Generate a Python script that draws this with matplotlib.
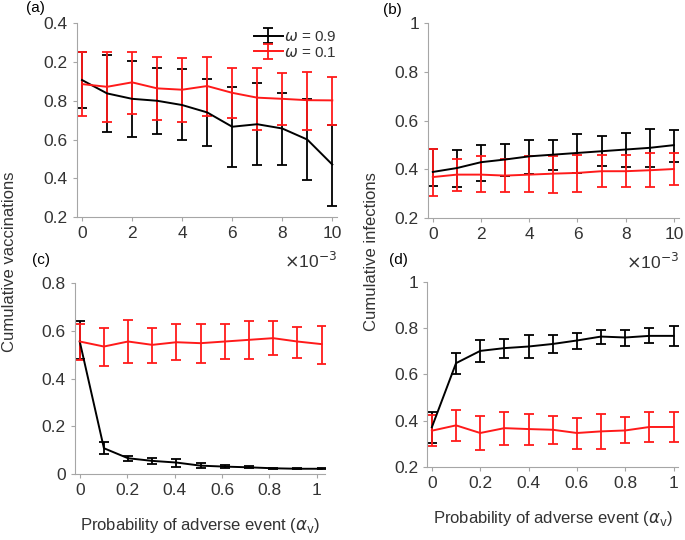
import matplotlib
matplotlib.use("Agg")
import matplotlib.pyplot as plt
import numpy as np

plt.rcParams['font.family'] = ['Liberation Sans', 'DejaVu Sans']
plt.rcParams['mathtext.fontset'] = 'dejavusans'

TXT = '#333333'
AX = '#a6a6a6'
RED = '#ff1a1a'

# --- Data ---
# top row: alpha_v in units of 1e-3
x_top = [0, 1, 2, 3, 4, 5, 6, 7, 8, 9, 10]
# bottom row
x_c = [0, 0.102, 0.204, 0.306, 0.408, 0.51, 0.612, 0.714, 0.816, 0.918, 1.021]
x_d = [0, 0.1, 0.2, 0.3, 0.4, 0.5, 0.6, 0.7, 0.8, 0.9, 1.0]

# (a) cumulative vaccinations
a_blk = [0.907, 0.838, 0.810, 0.800, 0.778, 0.740, 0.666, 0.679, 0.657, 0.600, 0.471]
a_blk_hi = [1.053, 1.036, 1.005, 0.969, 0.962, 0.912, 0.872, 0.890, 0.841, 0.810, 0.674]
a_blk_lo = [0.764, 0.640, 0.614, 0.628, 0.597, 0.566, 0.459, 0.471, 0.471, 0.393, 0.257]
a_red = [0.886, 0.872, 0.895, 0.864, 0.857, 0.876, 0.841, 0.816, 0.810, 0.803, 0.802]
a_red_hi = [1.053, 1.052, 1.052, 1.024, 1.021, 1.028, 0.971, 0.967, 0.941, 0.950, 0.924]
a_red_lo = [0.721, 0.691, 0.734, 0.700, 0.691, 0.721, 0.710, 0.648, 0.674, 0.650, 0.674]

# (b) cumulative infections
b_blk = [0.389, 0.405, 0.429, 0.440, 0.453, 0.460, 0.467, 0.474, 0.481, 0.488, 0.499]
b_blk_hi = [0.485, 0.478, 0.499, 0.505, 0.522, 0.522, 0.545, 0.536, 0.549, 0.567, 0.563]
b_blk_lo = [0.330, 0.327, 0.353, 0.371, 0.382, 0.395, 0.385, 0.415, 0.410, 0.410, 0.430]
b_red = [0.368, 0.378, 0.378, 0.374, 0.378, 0.382, 0.385, 0.392, 0.392, 0.396, 0.401]
b_red_hi = [0.485, 0.442, 0.453, 0.442, 0.453, 0.456, 0.460, 0.460, 0.458, 0.467, 0.467]
b_red_lo = [0.289, 0.310, 0.305, 0.305, 0.307, 0.303, 0.307, 0.327, 0.327, 0.327, 0.337]

# (c) cumulative vaccinations
c_blk = [0.555, 0.108, 0.066, 0.055, 0.048, 0.035, 0.031, 0.028, 0.024, 0.022, 0.022]
c_blk_hi = [0.639, 0.133, 0.076, 0.066, 0.062, 0.045, 0.036, 0.032, 0.026, 0.024, 0.024]
c_blk_lo = [0.481, 0.084, 0.056, 0.042, 0.031, 0.027, 0.025, 0.024, 0.022, 0.020, 0.020]
c_red = [0.555, 0.534, 0.555, 0.541, 0.552, 0.548, 0.555, 0.562, 0.569, 0.555, 0.544]
c_red_hi = [0.628, 0.611, 0.643, 0.610, 0.628, 0.629, 0.628, 0.642, 0.639, 0.617, 0.622]
c_red_lo = [0.478, 0.453, 0.464, 0.467, 0.478, 0.464, 0.481, 0.481, 0.499, 0.485, 0.460]

# (d) cumulative infections
d_blk = [0.372, 0.649, 0.702, 0.714, 0.721, 0.732, 0.747, 0.764, 0.760, 0.767, 0.767]
d_blk_hi = [0.437, 0.695, 0.747, 0.753, 0.771, 0.771, 0.781, 0.793, 0.793, 0.799, 0.810]
d_blk_lo = [0.304, 0.603, 0.653, 0.673, 0.670, 0.695, 0.709, 0.732, 0.725, 0.735, 0.724]
d_red = [0.357, 0.380, 0.347, 0.368, 0.364, 0.361, 0.347, 0.354, 0.358, 0.373, 0.373]
d_red_hi = [0.423, 0.447, 0.419, 0.436, 0.429, 0.422, 0.414, 0.430, 0.416, 0.436, 0.436]
d_red_lo = [0.289, 0.311, 0.275, 0.296, 0.296, 0.299, 0.279, 0.279, 0.304, 0.308, 0.306]

# panel (a) tick labels as printed in the figure
a_ticklabels = ['0.2', '0.4', '0.6', '0.8', '0.2', '0.4']


def err(m, hi, lo):
    m = np.array(m)
    return [m - np.array(lo), np.array(hi) - m]


def style(ax):
    for s in ['top', 'right']:
        ax.spines[s].set_visible(False)
    for s in ['left', 'bottom']:
        ax.spines[s].set_color(AX)
        ax.spines[s].set_linewidth(0.8)
    ax.tick_params(direction='out', length=3, width=0.8, color=AX,
                   labelcolor=TXT, labelsize=12.5)


def draw(ax, x, blk, bhi, blo, red, rhi, rlo):
    kw = dict(lw=1.4, elinewidth=1.3, capsize=3.5, capthick=1.3)
    h1 = ax.errorbar(x, blk, yerr=err(blk, bhi, blo), color='black', **kw)
    h2 = ax.errorbar(x, red, yerr=err(red, rhi, rlo), color=RED, **kw)
    return h1, h2


fig = plt.figure(figsize=(6.85, 5.4), dpi=100)
ax_a = fig.add_axes([0.1124, 0.598, 0.380, 0.359])
ax_b = fig.add_axes([0.6248, 0.5963, 0.366, 0.361])
ax_c = fig.add_axes([0.1095, 0.1222, 0.365, 0.3537])
ax_d = fig.add_axes([0.6234, 0.1352, 0.367, 0.3426])

h1, h2 = draw(ax_a, x_top, a_blk, a_blk_hi, a_blk_lo, a_red, a_red_hi, a_red_lo)
ax_a.set_xlim(-0.2, 10.2)
ax_a.set_ylim(0.2, 1.2)
ax_a.set_xticks([0, 2, 4, 6, 8, 10])
ax_a.set_yticks([0.2, 0.4, 0.6, 0.8, 1.0, 1.2])
ax_a.set_yticklabels(a_ticklabels)
leg = ax_a.legend([h1, h2], [r'$\omega$ = 0.9', r'$\omega$ = 0.1'], frameon=False,
                  loc='upper right', bbox_to_anchor=(1.04, 1.02), fontsize=11,
                  handlelength=1.9, handletextpad=0.1, labelspacing=0.1,
                  borderpad=0.2, labelcolor=TXT)

draw(ax_b, x_top, b_blk, b_blk_hi, b_blk_lo, b_red, b_red_hi, b_red_lo)
ax_b.set_xlim(-0.2, 10.2)
ax_b.set_ylim(0.2, 1.0)
ax_b.set_xticks([0, 2, 4, 6, 8, 10])
ax_b.set_yticks([0.2, 0.4, 0.6, 0.8, 1.0])
ax_b.set_yticklabels(['0.2', '0.4', '0.6', '0.8', '1'])

draw(ax_c, x_c, c_blk, c_blk_hi, c_blk_lo, c_red, c_red_hi, c_red_lo)
ax_c.set_xlim(-0.02, 1.035)
ax_c.set_ylim(0, 0.8)
ax_c.set_xticks([0, 0.2, 0.4, 0.6, 0.8, 1.0])
ax_c.set_xticklabels(['0', '0.2', '0.4', '0.6', '0.8', '1'])
ax_c.set_yticks([0, 0.2, 0.4, 0.6, 0.8])
ax_c.set_yticklabels(['0', '0.2', '0.4', '0.6', '0.8'])

draw(ax_d, x_d, d_blk, d_blk_hi, d_blk_lo, d_red, d_red_hi, d_red_lo)
ax_d.set_xlim(-0.02, 1.02)
ax_d.set_ylim(0.2, 1.0)
ax_d.set_xticks([0, 0.2, 0.4, 0.6, 0.8, 1.0])
ax_d.set_xticklabels(['0', '0.2', '0.4', '0.6', '0.8', '1'])
ax_d.set_yticks([0.2, 0.4, 0.6, 0.8, 1.0])
ax_d.set_yticklabels(['0.2', '0.4', '0.6', '0.8', '1'])

for ax in [ax_a, ax_b, ax_c, ax_d]:
    style(ax)

for ax in [ax_a, ax_b]:
    ax.text(1.0, -0.225, r'$\times$10$^{-3}$', transform=ax.transAxes,
            ha='right', va='center', fontsize=12.5, color=TXT)

for ax in [ax_c, ax_d]:
    ax.set_xlabel(r'Probability of adverse event ($\alpha_\mathrm{v}$)',
                  fontsize=12, color=TXT, labelpad=13)

W, H = 685, 540
fig.text(10 / W, 1 - 262 / H, 'Cumulative vaccinations', rotation=90,
         ha='center', va='center', fontsize=12, color=TXT)
fig.text(372 / W, 1 - 252 / H, 'Cumulative infections', rotation=90,
         ha='center', va='center', fontsize=12, color=TXT)

for lab, (px, py) in zip(['(a)', '(b)', '(c)', '(d)'],
                         [(35, 8), (392, 10), (41, 260), (398, 260)]):
    fig.text(px / W, 1 - py / H, lab, ha='center', va='center',
             fontsize=11, color='black')

fig.savefig('out.png', dpi=100)
